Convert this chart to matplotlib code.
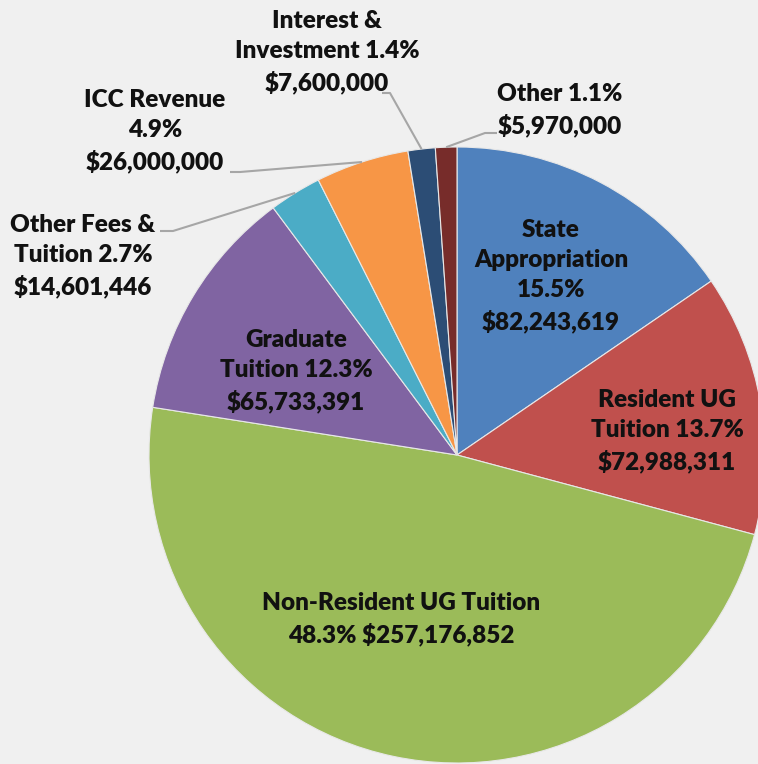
import numpy as np
import matplotlib.pyplot as plt

# revenue sources, clockwise from 12 o'clock
sources = ["State\nAppropriation", "Resident UG\nTuition", "Non-Resident UG Tuition",
           "Graduate\nTuition", "Other Fees &\nTuition", "ICC Revenue",
           "Interest &\nInvestment", "Other"]
amounts = [82243619, 72988311, 257176852, 65733391, 14601446, 26000000, 7600000, 5970000]
pcts = [15.5, 13.7, 48.3, 12.3, 2.7, 4.9, 1.4, 1.1]
colors = ["#4F81BD", "#C0504D", "#9BBB59", "#8064A2", "#4BACC6", "#F79646", "#2C4D75", "#772C2A"]

labels = [
    "State\nAppropriation\n15.5%\n$82,243,619",
    "Resident UG\nTuition 13.7%\n$72,988,311",
    "Non-Resident UG Tuition\n48.3% $257,176,852",
    "Graduate\nTuition 12.3%\n$65,733,391",
    "Other Fees &\nTuition 2.7%\n$14,601,446",
    "ICC Revenue\n4.9%\n$26,000,000",
    "Interest &\nInvestment 1.4%\n$7,600,000",
    "Other 1.1%\n$5,970,000",
]

W, H = 758, 764
fig = plt.figure(figsize=(W / 100, H / 100), dpi=100, facecolor="#F0F0F0")
ax = fig.add_axes([0, 0, 1, 1])

cx, cy, r = 457, H - 455, 308
wedges, _ = ax.pie(amounts, colors=colors, startangle=90, counterclock=False,
                   center=(cx, cy), radius=r, frame=True,
                   wedgeprops=dict(edgecolor="#e8e8e8", linewidth=0.8))
ax.set_xlim(0, W)
ax.set_ylim(0, H)
ax.set_aspect("equal")
ax.axis("off")

font = dict(family=["Lato", "DejaVu Sans"], fontweight="heavy",
            fontsize=17.5, color="#111111", ha="center", va="center", linespacing=1.45)

# label centres in pixel coords (x, y from top)
pos = [(551, 276), (667, 431), (401, 619), (296, 371), (83, 256), (155, 131), (327, 52), (560, 110)]
for i, lab in enumerate(labels):
    x, y = pos[i]
    ax.text(x, H - y, lab, **font)

# leader lines for the small outside slices: (wedge index, elbow, end)
leaders = [(7, (485, 133), (497, 133)),
           (6, (390, 93), (382, 93)),
           (5, (240, 172), (230, 172)),
           (4, (173, 231), (160, 231))]
for i, elbow, end in leaders:
    w = wedges[i]
    ang = np.deg2rad((w.theta1 + w.theta2) / 2)
    sx, sy = cx + r * np.cos(ang), cy + r * np.sin(ang)
    ax.plot([sx, elbow[0], end[0]], [sy, H - elbow[1], H - end[1]],
            color="#A6A6A6", lw=1.5, solid_capstyle="butt")

fig.savefig("out.png", dpi=100, facecolor=fig.get_facecolor())
